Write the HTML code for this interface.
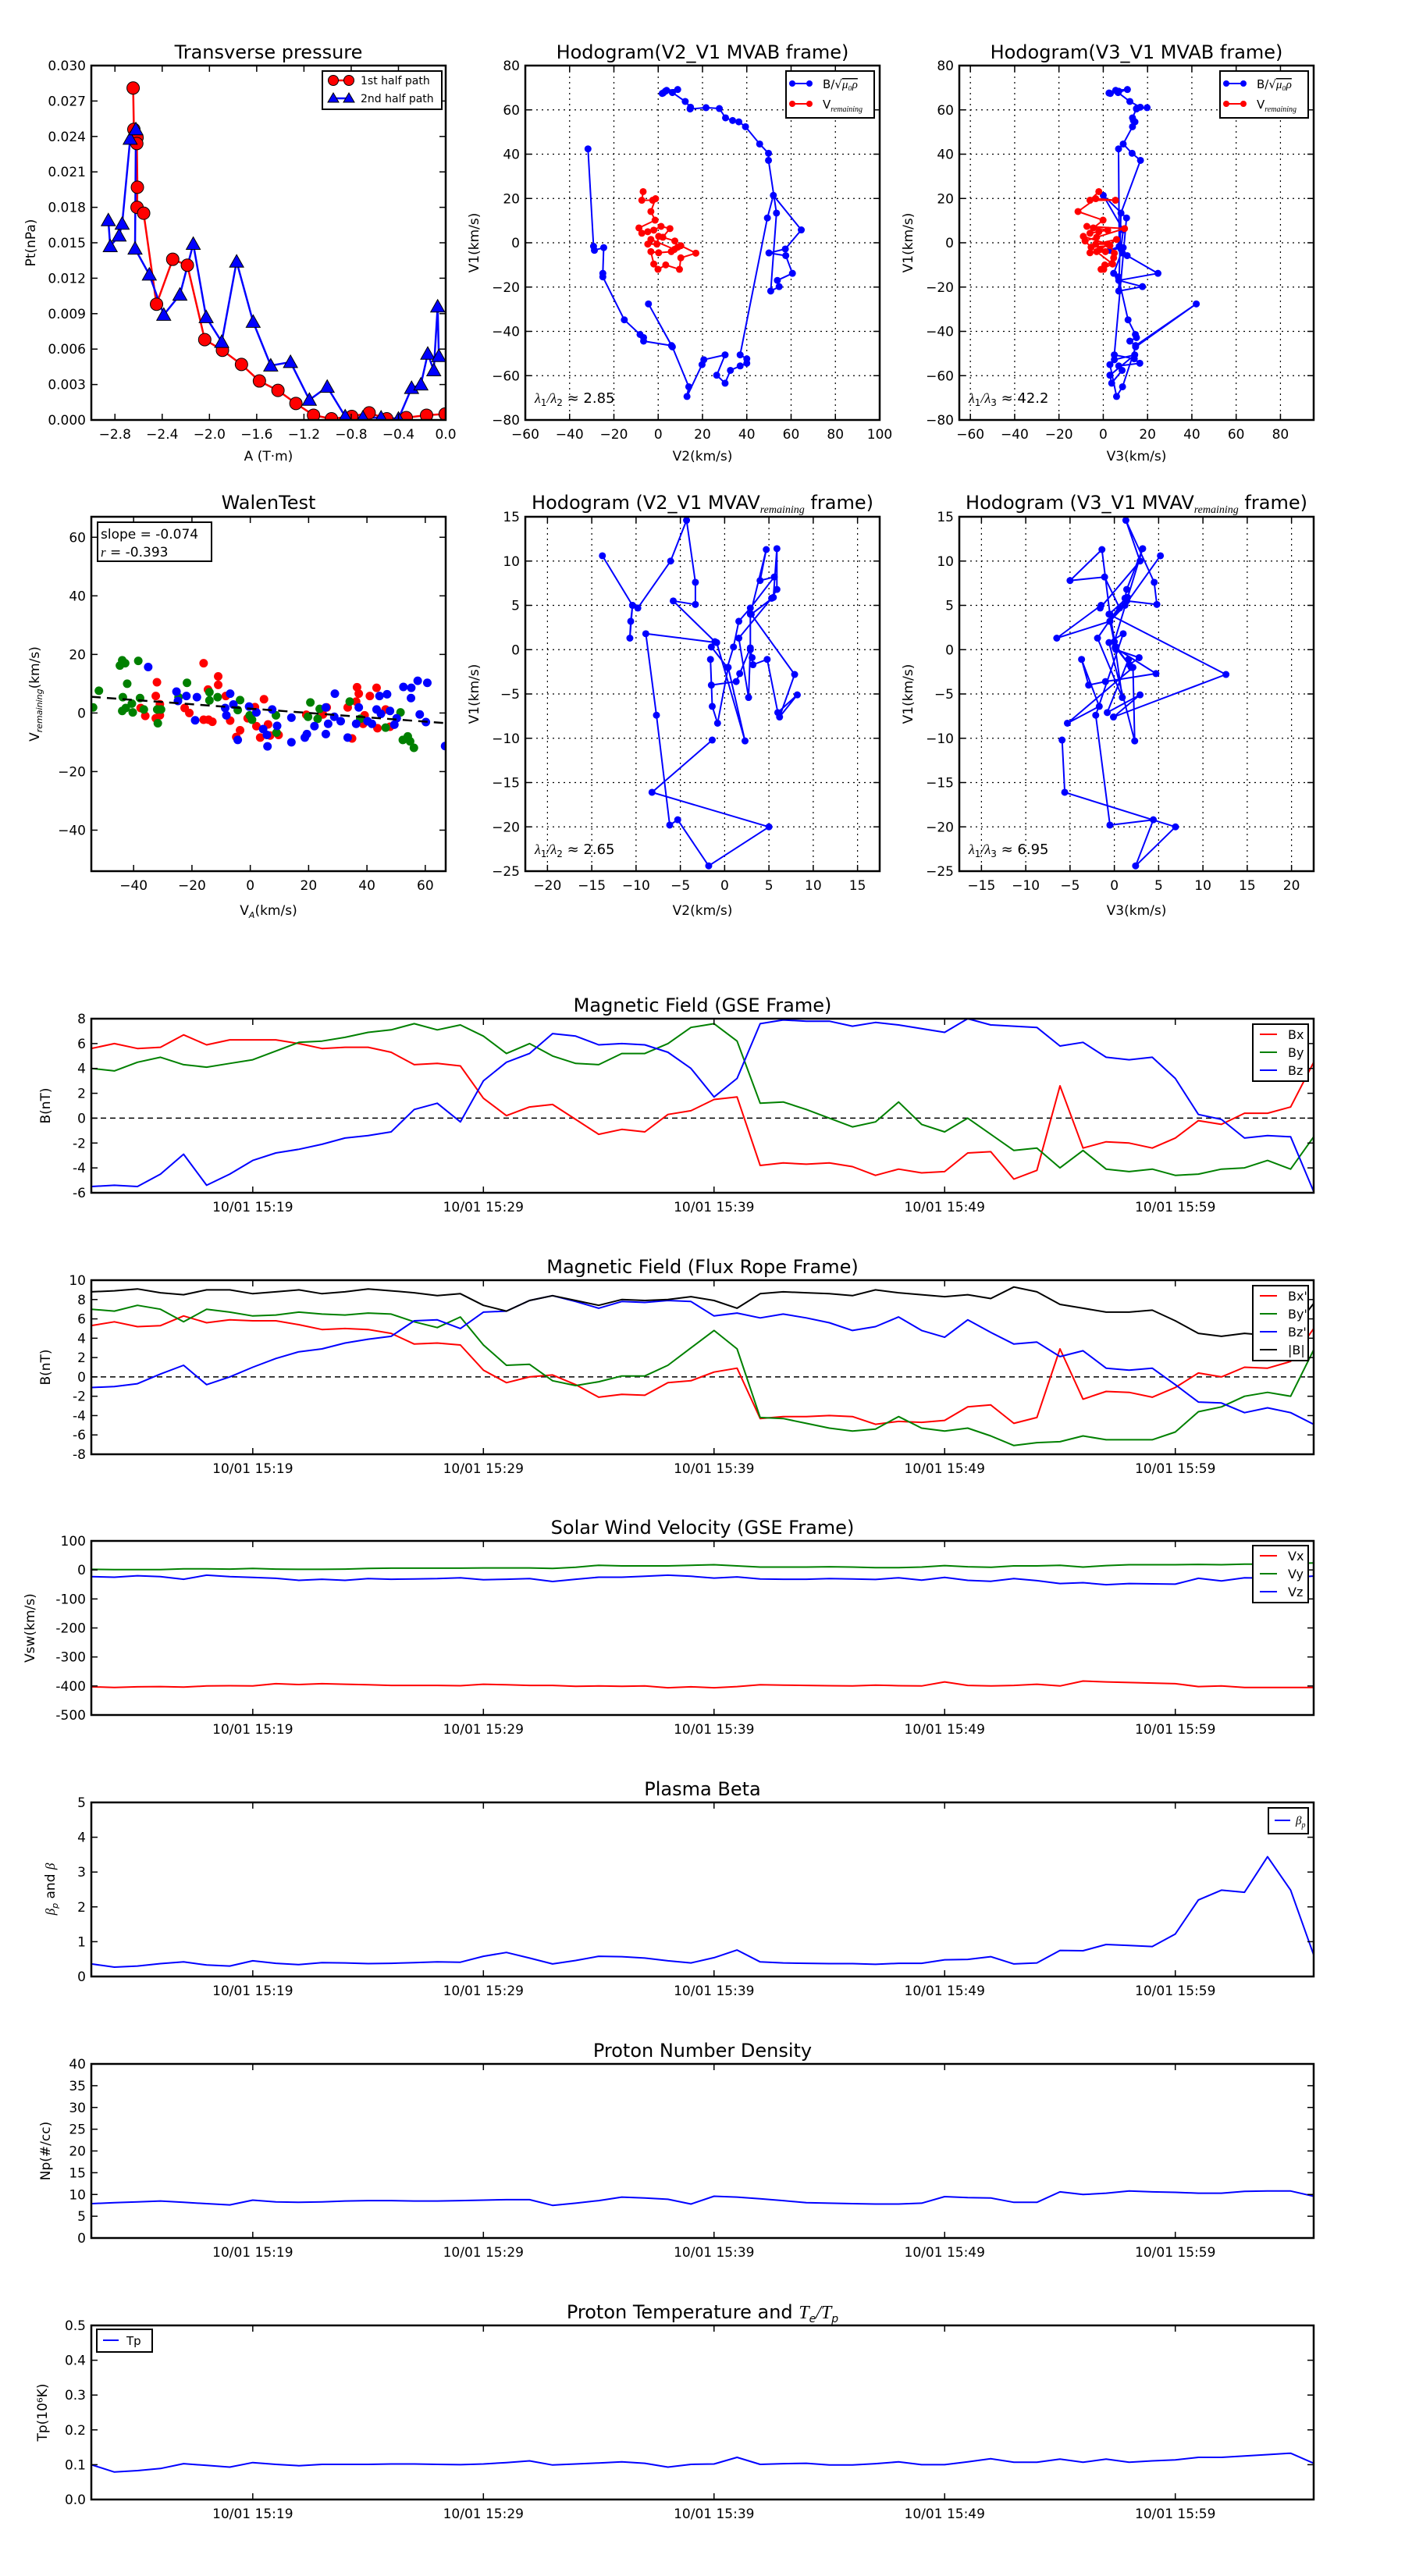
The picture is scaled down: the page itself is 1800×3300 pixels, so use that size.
<!DOCTYPE html>
<html><head><meta charset="utf-8">
<style>
html,body{margin:0;padding:0;background:#fff;}
svg{display:block;font-family:"DejaVu Sans","Liberation Sans",sans-serif;}
</style></head>
<body>
<svg id="fig" xmlns="http://www.w3.org/2000/svg" width="1800" height="3300" viewBox="0 0 1800 3300">
<defs id="defs"></defs>
<rect x="0" y="0" width="1800" height="3300" fill="#fff"/>
</svg>
<script>
// ---------- Transverse pressure ----------
const tpRedA=[-2.646,-2.64,-2.613,-2.615,-2.61,-2.613,-2.557,-2.448,-2.311,-2.187,-2.04,-1.89,-1.729,-1.577,-1.42,-1.268,-1.119,-0.967,-0.795,-0.648,-0.499,-0.334,-0.162,-0.005];
const tpRedP=[0.0281,0.0246,0.0239,0.0234,0.0197,0.0180,0.0175,0.0098,0.0136,0.0131,0.0068,0.0059,0.0047,0.0033,0.0025,0.0014,0.0004,0.0001,0.0003,0.0006,0.0001,0.0002,0.0004,0.0005];
const tpBlueA=[-2.856,-2.84,-2.765,-2.739,-2.671,-2.623,-2.63,-2.509,-2.387,-2.25,-2.137,-2.028,-1.896,-1.77,-1.63,-1.481,-1.314,-1.154,-1.003,-0.851,-0.701,-0.547,-0.4,-0.289,-0.21,-0.152,-0.101,-0.068,-0.058];
const tpBlueP=[0.0169,0.0147,0.0156,0.0166,0.0238,0.0246,0.0145,0.0123,0.0089,0.0106,0.0149,0.0087,0.0066,0.0134,0.0083,0.0046,0.0049,0.0017,0.0028,0.0003,0.0002,0.0002,0.0001,0.0027,0.0030,0.0056,0.0042,0.0096,0.0054];
const tpXTicks=[-2.8,-2.4,-2.0,-1.6,-1.2,-0.8,-0.4,0.0];
const tpXLabels=["−2.8","−2.4","−2.0","−1.6","−1.2","−0.8","−0.4","0.0"];
const tpYTicks=[0,0.003,0.006,0.009,0.012,0.015,0.018,0.021,0.024,0.027,0.030];
const tpYLabels=["0.000","0.003","0.006","0.009","0.012","0.015","0.018","0.021","0.024","0.027","0.030"];

// ---------- MVAB hodograms ----------
const hbV1=[42.4,-1.6,-3.4,-2.2,-13.8,-15.4,-34.8,-41.4,-42.8,-44.4,-46.4,-27.6,-47,-65,-69.4,-55,-52.8,-50.6,-59.8,-63.4,-57.6,-55.6,-54.4,-52.4,-50.6,11.2,21.4,5.8,-2.8,-4.6,-5.8,-13.8,-17,-19.8,-21.8,13.4,37.2,40.4,44.6,52.4,54.6,55.2,56.4,60.6,61,60.4,61.2,63.8,67.8,69.2,68.8,67.6,67.4,68.4];
const hbV2=[-31.7,-29.2,-28.8,-24.6,-25,-25,-15.3,-8.2,-6.6,-6.6,6,-4.4,6.4,13.8,13,19.8,20.6,30.2,26.4,30.2,32.6,37,40,40,37,49.3,52,64.6,57.4,50,57.6,60.6,53.8,54.6,50.8,53.4,49.8,49.8,45.8,39.4,36.4,33.6,30.4,27.6,21.6,14.4,14.6,12.2,6.4,8.8,3.8,2.2,1.8,3.2];
const hbV3=[6.9,7.2,3,9,4.7,6.8,11.2,14.5,15,12,14.6,42,14.6,8.7,6,3,5,14.2,3,3.8,8.5,7,16.5,14,5,10.5,0,9,8,8.6,10.8,24.7,7,17.7,7,8,16.8,13,9,13.2,14.3,13.6,13.2,15,19.8,15,16.7,12,6.7,10.9,5.6,2.6,3.2,7];
const hrV1=[23.1,19.2,19.2,19.9,14.1,10.2,6.7,4.3,5.0,5.7,7.4,6.4,2.5,0.8,-2.0,-1.3,-4.7,-6.8,-12.0,-10.0,-12.0,-9.6,-4.0,-4.5,-4.0,-3.0,1.5,-0.6,-0.6,2.9];
const hrV2=[-6.8,-7.4,-2.5,-1.2,-3.3,-1.4,-8.7,-7.4,-4.7,-2.0,1.3,5.3,2.1,7.5,8.8,10.2,17.0,10.2,9.6,3.4,-0.1,-2.0,-3.3,0.2,5.9,7.3,-3.3,-4.7,-0.6,0.2];
const hrV3=[-2,-6,5.5,-3.4,-11.4,-0.1,-4.5,-6,-2,2,-7.4,9.6,-3,-8.2,-5.5,3,5,4.7,0.2,0.7,-1,4.2,-3,-6,1,-1.5,6,-3.4,2,-9];
const hodoYTicks=[-80,-60,-40,-20,0,20,40,60,80];
const hodoYLabels=["−80","−60","−40","−20","0","20","40","60","80"];
const h1XTicks=[-60,-40,-20,0,20,40,60,80,100];
const h1XLabels=["−60","−40","−20","0","20","40","60","80","100"];
const h2XTicks=[-60,-40,-20,0,20,40,60,80];
const h2XLabels=["−60","−40","−20","0","20","40","60","80"];

// ---------- Walen test ----------
const wRedX=[-16,-11,-11,-32,-32.4,-31,-36,-37.6,-32.4,-31,-22.5,-20.9,-16,-14.3,-13,-14.5,-8.4,-6.9,-4.8,-3.5,-0.9,1.6,2.1,3.4,4.7,6.1,6.8,9.7,19.2,24.9,26.2,33.4,34.9,36.3,36.6,37.2,39.2,41,43.3,43.6,46.4,47.9,38.7];
const wRedY=[17,12.5,9.6,10.5,5.8,3,-1,1.7,-1.8,-0.8,1.7,0,-2.3,-2.3,-3,8,5.8,-2.6,-8.2,-5.9,-1.8,2,-4.5,-8.4,4.7,-3.9,-7.7,-7.5,-0.6,-0.5,1.9,1.9,-8.7,3.9,8.8,6.6,-0.8,5.8,8.6,-5.2,1.2,-4.7,-3.7];
const wGreenX=[-51.9,-53.9,-44.7,-43.9,-42.9,-38.4,-42.2,-43.7,-43.9,-42.7,-40.3,-40.6,-37.8,-36.5,-31.9,-30.6,-31.7,-24.6,-21.7,-14,-14,-11.2,-3.5,-4.3,-0.2,0.6,8.8,9,20.6,19.8,23.1,23.8,34.1,37.7,46.4,51.5,52.3,54,54.8,56.1];
const wGreenY=[7.6,1.9,16.2,18,17,17.8,10,5.4,0.7,1.7,0.2,3.2,5.1,1.2,1.2,1.2,-3.5,5.4,10.3,7.1,4.3,5.4,4.4,1,-0.8,-2.3,-0.8,-6.7,3.6,-1.3,-2,1.4,3.9,-2,-5,0.2,-9.2,-8,-9.7,-11.9];
const wBlueX=[-35,-25.3,-24.8,-21.9,-18.3,-18.9,-6.9,-5.8,-8.6,-8.2,-4.3,-0.4,2.1,4.4,5.7,5.9,7.5,9.2,14.1,14.1,18.7,19.4,22,25.9,25.9,26.7,28.8,29,31,33.4,36.3,37.2,40.2,41.7,43.3,44.3,44.8,46.9,47.9,49.4,50.2,52.5,55.2,55.1,57.4,58.1,60.2,60.7,66.8];
const wBlueY=[15.7,7.3,4.1,5.8,5.4,-2.5,6.6,2.9,1.7,-0.8,-9.2,2.2,0.2,-5.5,-7.5,-11.4,1.2,-4.4,-1.6,-10,-8.4,-7.2,-4.5,1.9,-7.2,-3.7,-1.3,6.6,-2.8,-8.4,-3.7,1.9,-2.8,-3.7,1.2,5.8,-0.3,6.4,0.7,-4,-1.8,8.9,8.6,5.1,11,-0.5,-3.1,10.3,-11.3];
const walenFit=[-0.074,1.5];
const wXTicks=[-40,-20,0,20,40,60];
const wXLabels=["−40","−20","0","20","40","60"];
const wYTicks=[-40,-20,0,20,40,60];
const wYLabels=["−40","−20","0","20","40","60"];

// ---------- MVAV hodograms ----------
const hmV1=[10.6,5.0,3.2,1.3,5.0,4.7,10.0,14.6,7.6,5.1,5.5,0.9,0.3,-2.0,0.3,3.2,4.7,8.2,7.8,11.3,4.0,0.0,-0.9,-1.7,-1.1,-7.1,-5.1,-7.6,-2.8,4.0,5.9,11.4,6.8,5.8,1.3,-5.4,0.2,-2.7,-3.6,-4.0,-1.1,-6.4,-8.3,-2.0,-10.3,0.8,1.8,-7.4,-19.8,-19.2,-24.4,-20.0,-16.1,-10.2];
const hmV2=[-13.8,-10.4,-10.6,-10.7,-10.4,-9.8,-6.1,-4.3,-3.3,-3.3,-5.8,-1.1,-1.5,0.3,1.0,1.6,2.9,5.6,4.0,4.7,2.9,2.9,3.1,3.2,4.8,6.0,8.2,6.2,7.9,3.0,5.5,5.9,5.9,5.3,1.6,2.7,2.9,1.7,1.3,-1.5,-1.6,-1.4,-0.8,0.4,2.3,-0.9,-8.9,-7.7,-6.2,-5.3,-1.8,5.0,-8.2,-1.4];
const hmV3=[5.2,1.2,-0.5,-6.5,-1.5,-1.6,2.9,1.3,4.5,4.8,1.4,0.0,0.2,1.9,0.1,-0.5,0.6,-1.1,-5.0,-1.4,-0.5,0.2,2.8,1.7,1.6,-0.8,2.9,-0.1,12.6,-0.6,1.5,3.2,1.4,1.2,-1.9,0.9,0.1,4.7,-1.0,-2.9,-3.7,-1.7,-5.3,2.1,2.3,-0.6,1.0,-2.1,-0.5,4.4,2.4,6.9,-5.6,-5.9];
const hmYTicks=[-25,-20,-15,-10,-5,0,5,10,15];
const hmYLabels=["−25","−20","−15","−10","−5","0","5","10","15"];
const h3XTicks=[-20,-15,-10,-5,0,5,10,15];
const h3XLabels=["−20","−15","−10","−5","0","5","10","15"];
const h4XTicks=[-15,-10,-5,0,5,10,15,20];
const h4XLabels=["−15","−10","−5","0","5","10","15","20"];

// ---------- time series (1-min samples 15:12 - 16:05) ----------
const tsTickIdx=[7,17,27,37,47];
const tsTickLabels=["10/01 15:19","10/01 15:29","10/01 15:39","10/01 15:49","10/01 15:59"];
const bx=[5.6,6.0,5.6,5.7,6.7,5.9,6.3,6.3,6.3,6.0,5.6,5.7,5.7,5.3,4.3,4.4,4.2,1.6,0.2,0.9,1.1,-0.1,-1.3,-0.9,-1.1,0.3,0.6,1.5,1.7,-3.8,-3.6,-3.7,-3.6,-3.9,-4.6,-4.1,-4.4,-4.3,-2.8,-2.7,-4.9,-4.2,2.6,-2.4,-1.9,-2.0,-2.4,-1.6,-0.2,-0.5,0.4,0.4,0.9,4.5];
const by=[4.0,3.8,4.5,4.9,4.3,4.1,4.4,4.7,5.4,6.1,6.2,6.5,6.9,7.1,7.6,7.1,7.5,6.6,5.2,6.0,5.0,4.4,4.3,5.2,5.2,6.0,7.3,7.6,6.2,1.2,1.3,0.7,0.0,-0.7,-0.3,1.3,-0.5,-1.1,0.0,-1.3,-2.6,-2.4,-4.0,-2.6,-4.1,-4.3,-4.1,-4.6,-4.5,-4.1,-4.0,-3.4,-4.1,-1.5];
const bz=[-5.5,-5.4,-5.5,-4.5,-2.9,-5.4,-4.5,-3.4,-2.8,-2.5,-2.1,-1.6,-1.4,-1.1,0.7,1.2,-0.3,3.0,4.5,5.2,6.8,6.6,5.9,6.0,5.9,5.3,4.0,1.7,3.2,7.6,7.9,7.8,7.8,7.4,7.7,7.5,7.2,6.9,8.0,7.5,7.4,7.3,5.8,6.1,4.9,4.7,4.9,3.2,0.3,-0.1,-1.6,-1.4,-1.5,-5.9];
const bxp=[5.3,5.7,5.2,5.3,6.3,5.6,5.9,5.8,5.8,5.4,4.9,5.0,4.9,4.5,3.4,3.5,3.3,0.7,-0.6,0.0,0.2,-0.8,-2.1,-1.8,-1.9,-0.6,-0.4,0.5,0.9,-4.3,-4.1,-4.1,-4.0,-4.1,-4.9,-4.6,-4.7,-4.5,-3.1,-2.9,-4.8,-4.2,2.9,-2.3,-1.5,-1.6,-2.1,-1.1,0.4,0.0,1.0,0.9,1.6,5.0];
const byp=[7.0,6.8,7.4,7.0,5.7,7.0,6.7,6.3,6.4,6.7,6.5,6.4,6.6,6.5,5.7,5.1,6.2,3.3,1.2,1.3,-0.4,-0.9,-0.5,0.1,0.1,1.2,3.0,4.8,2.9,-4.2,-4.3,-4.8,-5.3,-5.6,-5.4,-4.1,-5.3,-5.6,-5.3,-6.1,-7.1,-6.8,-6.7,-6.1,-6.5,-6.5,-6.5,-5.7,-3.6,-3.1,-2.0,-1.6,-2.0,2.8];
const bzp=[-1.1,-1.0,-0.7,0.3,1.2,-0.8,0.0,1.0,1.9,2.6,2.9,3.5,3.9,4.2,5.8,5.9,5.0,6.7,6.8,7.9,8.4,7.8,7.1,7.8,7.7,7.9,7.8,6.3,6.6,6.1,6.5,6.1,5.6,4.8,5.2,6.2,4.8,4.1,5.9,4.6,3.4,3.6,2.1,2.7,0.9,0.7,0.9,-0.8,-2.6,-2.7,-3.7,-3.2,-3.7,-4.9];
const bmag=[8.8,8.9,9.1,8.7,8.5,9.0,9.0,8.6,8.8,9.0,8.6,8.8,9.1,8.9,8.7,8.4,8.6,7.4,6.8,7.9,8.4,7.9,7.4,8.0,7.9,8.0,8.3,7.9,7.1,8.6,8.8,8.7,8.6,8.4,9.0,8.7,8.5,8.3,8.5,8.1,9.3,8.8,7.5,7.1,6.7,6.7,6.9,5.8,4.5,4.2,4.5,4.3,4.5,7.6];
const vx=[-403,-405,-403,-402,-404,-400,-399,-400,-392,-395,-392,-394,-396,-398,-398,-398,-399,-394,-396,-398,-398,-401,-400,-401,-400,-406,-403,-406,-402,-396,-397,-398,-399,-400,-397,-399,-400,-386,-398,-400,-398,-394,-400,-383,-386,-388,-390,-392,-402,-400,-405,-405,-405,-405];
const vy=[2,1,1,1,4,4,3,5,3,2,2,3,5,6,6,6,6,7,7,7,5,9,16,14,14,14,16,18,14,10,10,10,11,10,8,8,10,15,11,9,14,14,16,10,15,18,18,18,19,18,20,20,22,24];
const vz=[-23,-25,-20,-23,-32,-18,-23,-26,-29,-36,-32,-36,-30,-32,-31,-30,-27,-34,-32,-30,-40,-32,-25,-25,-22,-18,-22,-28,-24,-31,-32,-32,-30,-31,-33,-27,-35,-26,-36,-39,-30,-37,-47,-44,-51,-47,-48,-49,-29,-38,-27,-28,-27,-21];
const betaP=[0.36,0.27,0.30,0.37,0.42,0.33,0.30,0.45,0.38,0.34,0.40,0.39,0.37,0.38,0.40,0.42,0.41,0.58,0.69,0.53,0.36,0.46,0.58,0.57,0.53,0.45,0.39,0.54,0.76,0.42,0.39,0.38,0.37,0.37,0.35,0.38,0.38,0.48,0.49,0.57,0.36,0.39,0.75,0.74,0.92,0.89,0.86,1.22,2.2,2.48,2.42,3.44,2.48,0.62];
const np=[7.9,8.1,8.3,8.5,8.2,7.9,7.6,8.7,8.3,8.2,8.3,8.5,8.6,8.6,8.5,8.5,8.6,8.7,8.8,8.8,7.5,8.0,8.6,9.4,9.2,8.9,7.8,9.6,9.4,9.0,8.6,8.1,8.0,7.9,7.8,7.8,8.0,9.5,9.3,9.2,8.2,8.2,10.6,10.0,10.3,10.8,10.6,10.5,10.3,10.3,10.7,10.8,10.8,9.6];
const tp=[0.100,0.079,0.083,0.089,0.103,0.098,0.093,0.106,0.101,0.097,0.101,0.101,0.101,0.102,0.102,0.101,0.100,0.102,0.106,0.111,0.099,0.102,0.105,0.108,0.104,0.093,0.101,0.102,0.121,0.101,0.103,0.104,0.099,0.099,0.103,0.108,0.100,0.100,0.108,0.117,0.107,0.107,0.116,0.107,0.116,0.107,0.111,0.114,0.121,0.121,0.125,0.129,0.133,0.104];

// ================= drawing =================
const NS='http://www.w3.org/2000/svg';
const svg=document.getElementById('fig');
const defs=document.getElementById('defs');
function mk(tag,parent){const e=document.createElementNS(NS,tag);(parent||svg).appendChild(e);return e;}
function attrs(e,o){for(const k in o)e.setAttribute(k,o[k]);return e;}
function txt(parent,x,y,s,size,anchor,extra){const t=mk('text',parent);attrs(t,{x:x,y:y,'font-size':size,'text-anchor':anchor||'middle',fill:'#000'});if(extra)attrs(t,extra);t.textContent=s;return t;}

function axes(name,b,xl,yl){
  const g=mk('g');
  
  
  const cp=mk('clipPath',defs);attrs(cp,{id:'clip-'+name});
  attrs(mk('rect',cp),{x:b.l,y:b.t,width:b.w,height:b.h});
  const gridG=mk('g',g);
  const dg=mk('g',g);attrs(dg,{'clip-path':'url(#clip-'+name+')'});
  return {g,dg,gridG,b,sx:v=>b.l+(v-xl[0])/(xl[1]-xl[0])*b.w,sy:v=>b.t+b.h-(v-yl[0])/(yl[1]-yl[0])*b.h};
}
function finish(ax,xt,xlab,yt,ylab,grid,fs){
  const b=ax.b,g=ax.g;fs=fs||17;
  if(grid){
    xt.forEach(v=>{const x=ax.sx(v);if(x>b.l+1&&x<b.l+b.w-1){const l=mk('line',ax.gridG);attrs(l,{x1:x,x2:x,y1:b.t,y2:b.t+b.h,stroke:'#000','stroke-width':1.2,'stroke-dasharray':'2,5'});}});
    yt.forEach(v=>{const y=ax.sy(v);if(y>b.t+1&&y<b.t+b.h-1){const l=mk('line',ax.gridG);attrs(l,{x1:b.l,x2:b.l+b.w,y1:y,y2:y,stroke:'#000','stroke-width':1.2,'stroke-dasharray':'2,5'});}});
  }
  const tg=mk('g',g);
  
  
  xt.forEach((v,i)=>{const x=ax.sx(v);
    attrs(mk('line',tg),{x1:x,x2:x,y1:b.t+b.h,y2:b.t+b.h-8,stroke:'#000','stroke-width':1.5});
    attrs(mk('line',tg),{x1:x,x2:x,y1:b.t,y2:b.t+8,stroke:'#000','stroke-width':1.5});
    txt(tg,x,b.t+b.h+24,xlab[i],fs,'middle');});
  yt.forEach((v,i)=>{const y=ax.sy(v);
    attrs(mk('line',tg),{x1:b.l,x2:b.l+8,y1:y,y2:y,stroke:'#000','stroke-width':1.5});
    attrs(mk('line',tg),{x1:b.l+b.w,x2:b.l+b.w-8,y1:y,y2:y,stroke:'#000','stroke-width':1.5});
    txt(tg,b.l-7,y+6,ylab[i],fs,'end');});
  const fr=mk('rect',g);attrs(fr,{x:b.l,y:b.t,width:b.w,height:b.h,fill:'none',stroke:'#000','stroke-width':2.5});
  
  
}
function line(ax,xs,ys,color,w){const p=mk('polyline',ax.dg);attrs(p,{points:xs.map((x,i)=>ax.sx(x).toFixed(1)+','+ax.sy(ys[i]).toFixed(1)).join(' '),fill:'none',stroke:color,'stroke-width':w||2,'stroke-linejoin':'round'});return p;}
function dots(ax,xs,ys,color,r,stroke){const g=mk('g',ax.dg);xs.forEach((x,i)=>{const c=mk('circle',g);attrs(c,{cx:ax.sx(x),cy:ax.sy(ys[i]),r:r,fill:color});if(stroke)attrs(c,{stroke:stroke,'stroke-width':1});
  
  });return g;}
function title(ax,s,y){const t=txt(ax.g,ax.b.l+ax.b.w/2,y,s,24,'middle');return t;}
function xlabel(ax,s,y){const t=txt(ax.g,ax.b.l+ax.b.w/2,y,s,17,'middle');return t;}
function ylabel(ax,s,x){const cy=ax.b.t+ax.b.h/2;const t=txt(ax.g,x,cy,s,17,'middle',{transform:'rotate(-90 '+x+' '+cy+')'});return t;}

// ---- Transverse pressure ----
(function(){
  const ax=axes('transverse-pressure-chart',{l:117,t:84,w:454,h:454},[-3,0],[0,0.03]);
  line(ax,tpRedA,tpRedP,'#f00',2.5);
  line(ax,tpBlueA,tpBlueP,'#00f',2.5);
  dots(ax,tpRedA,tpRedP,'#f00',8,'#000');
  const tg=mk('g',ax.dg);
  tpBlueA.forEach((a,i)=>{const x=ax.sx(a),y=ax.sy(tpBlueP[i]);const p=mk('polygon',tg);
    attrs(p,{points:`${x},${y-9} ${x-9},${y+7} ${x+9},${y+7}`,fill:'#00f',stroke:'#000','stroke-width':1});
    
    });
  finish(ax,tpXTicks,tpXLabels,tpYTicks,tpYLabels,false);
  title(ax,'Transverse pressure',75);
  xlabel(ax,'A (T·m)',590);
  ylabel(ax,'Pt(nPa)',45);
  const lg=mk('g',ax.g);
  
  
  attrs(mk('rect',lg),{x:413,y:91,width:153,height:49,fill:'#fff',stroke:'#000','stroke-width':2});
  attrs(mk('line',lg),{x1:427,x2:447,y1:103,y2:103,stroke:'#f00','stroke-width':2.5});
  attrs(mk('circle',lg),{cx:427,cy:103,r:6.5,fill:'#f00',stroke:'#000'});
  attrs(mk('circle',lg),{cx:447,cy:103,r:6.5,fill:'#f00',stroke:'#000'});
  txt(lg,462,108,'1st half path',14,'start');
  attrs(mk('line',lg),{x1:427,x2:447,y1:126,y2:126,stroke:'#00f','stroke-width':2.5});
  attrs(mk('polygon',lg),{points:'427,119 420,131 434,131',fill:'#00f',stroke:'#000'});
  attrs(mk('polygon',lg),{points:'447,119 440,131 454,131',fill:'#00f',stroke:'#000'});
  txt(lg,462,131,'2nd half path',14,'start');
})();

function hodoLegend(ax,x0,y0,showRed){
  const lg=mk('g',ax.g);
  
  
  attrs(mk('rect',lg),{x:x0,y:y0,width:113,height:60,fill:'#fff',stroke:'#000','stroke-width':2});
  attrs(mk('line',lg),{x1:x0+8,x2:x0+30,y1:y0+16,y2:y0+16,stroke:'#00f','stroke-width':2});
  attrs(mk('circle',lg),{cx:x0+8,cy:y0+16,r:4,fill:'#00f'});
  attrs(mk('circle',lg),{cx:x0+30,cy:y0+16,r:4,fill:'#00f'});
  const t=txt(lg,x0+47,y0+22,'B/√',15,'start');
  const ts=mk('tspan',t);attrs(ts,{'font-style':'italic','font-family':'Liberation Serif, serif','text-decoration':'overline'});ts.textContent='μ₀ρ';
  attrs(mk('line',lg),{x1:x0+8,x2:x0+30,y1:y0+42,y2:y0+42,stroke:'#f00','stroke-width':2});
  attrs(mk('circle',lg),{cx:x0+8,cy:y0+42,r:4,fill:'#f00'});
  attrs(mk('circle',lg),{cx:x0+30,cy:y0+42,r:4,fill:'#f00'});
  const t2=txt(lg,x0+47,y0+48,'V',15,'start');
  const s2=mk('tspan',t2);attrs(s2,{'font-size':10,'font-style':'italic','font-family':'Liberation Serif, serif',dy:4});s2.textContent='remaining';
}
function lambdaText(ax,a,b,val){
  const t=txt(ax.g,ax.b.l+12,ax.b.t+ax.b.h-22,'',18,'start');
  
  
  const p1=mk('tspan',t);attrs(p1,{'font-style':'italic','font-family':'Liberation Serif, serif'});p1.textContent='λ';
  const s1=mk('tspan',t);attrs(s1,{'font-size':12,dy:4});s1.textContent=a;
  const p2=mk('tspan',t);attrs(p2,{dy:-4,'font-style':'italic','font-family':'Liberation Serif, serif'});p2.textContent='/λ';
  const s2=mk('tspan',t);attrs(s2,{'font-size':12,dy:4});s2.textContent=b;
  const p3=mk('tspan',t);attrs(p3,{dy:-4});p3.textContent=' ≈ '+val;
}

// ---- Hodogram V2_V1 MVAB ----
(function(){
  const ax=axes('hodogram-v2-v1-mvab',{l:673,t:84,w:454,h:454},[-60,100],[-80,80]);
  line(ax,hbV2,hbV1,'#00f',2);dots(ax,hbV2,hbV1,'#00f',4.5);
  line(ax,hrV2,hrV1,'#f00',2);dots(ax,hrV2,hrV1,'#f00',4.5);
  finish(ax,h1XTicks,h1XLabels,hodoYTicks,hodoYLabels,true);
  title(ax,'Hodogram(V2_V1 MVAB frame)',75);
  xlabel(ax,'V2(km/s)',590);ylabel(ax,'V1(km/s)',613);
  hodoLegend(ax,1007,91);
  lambdaText(ax,'1','2','2.85');
})();
// ---- Hodogram V3_V1 MVAB ----
(function(){
  const ax=axes('hodogram-v3-v1-mvab',{l:1229,t:84,w:454,h:454},[-65,95],[-80,80]);
  line(ax,hbV3,hbV1,'#00f',2);dots(ax,hbV3,hbV1,'#00f',4.5);
  line(ax,hrV3,hrV1,'#f00',2);dots(ax,hrV3,hrV1,'#f00',4.5);
  finish(ax,h2XTicks,h2XLabels,hodoYTicks,hodoYLabels,true);
  title(ax,'Hodogram(V3_V1 MVAB frame)',75);
  xlabel(ax,'V3(km/s)',590);ylabel(ax,'V1(km/s)',1169);
  hodoLegend(ax,1563,91);
  lambdaText(ax,'1','3','42.2');
})();

// ---- Walen test ----
(function(){
  const ax=axes('walen-test-chart',{l:117,t:662,w:454,h:454},[-54.5,67],[-54,67]);
  dots(ax,wRedX,wRedY,'#f00',5.5);
  dots(ax,wGreenX,wGreenY,'#008000',5.5);
  dots(ax,wBlueX,wBlueY,'#00f',5.5);
  const fx=[-54.5,67];
  const fl=line(ax,fx,fx.map(x=>walenFit[0]*x+walenFit[1]),'#000',2.5);
  attrs(fl,{'stroke-dasharray':'12,8'});
  
  
  finish(ax,wXTicks,wXLabels,wYTicks,wYLabels,false);
  title(ax,'WalenTest',652);
  const xl=xlabel(ax,'',1172);xl.textContent='V';const xs=mk('tspan',xl);attrs(xs,{'font-size':11,dy:4,'font-style':'italic'});xs.textContent='A';const xs2=mk('tspan',xl);attrs(xs2,{dy:-4});xs2.textContent='(km/s)';
  const yl=ylabel(ax,'',50);yl.textContent='V';const ys=mk('tspan',yl);attrs(ys,{'font-size':11,dy:4,'font-style':'italic'});ys.textContent='remaining';const ys2=mk('tspan',yl);attrs(ys2,{dy:-4});ys2.textContent='(km/s)';
  const bx=mk('g',ax.g);
  
  
  attrs(mk('rect',bx),{x:125,y:669,width:146,height:50,fill:'#fff',stroke:'#000','stroke-width':2});
  txt(bx,129,690,'slope = -0.074',17,'start');
  const r=txt(bx,129,713,'',17,'start');const ri=mk('tspan',r);attrs(ri,{'font-style':'italic','font-family':'Liberation Serif, serif'});ri.textContent='r';const rr=mk('tspan',r);rr.textContent=' = -0.393';
})();

function mvavTitle(ax,s1){const t=title(ax,s1,652);const s=mk('tspan',t);attrs(s,{'font-size':14,dy:5,'font-style':'italic','font-family':'Liberation Serif, serif'});s.textContent='remaining';const s2=mk('tspan',t);attrs(s2,{dy:-5});s2.textContent=' frame)';}
// ---- Hodogram V2_V1 MVAV ----
(function(){
  const ax=axes('hodogram-v2-v1-mvav',{l:673,t:662,w:454,h:454},[-22.5,17.5],[-25,15]);
  line(ax,hmV2,hmV1,'#00f',2);dots(ax,hmV2,hmV1,'#00f',4.5);
  finish(ax,h3XTicks,h3XLabels,hmYTicks,hmYLabels,true);
  mvavTitle(ax,'Hodogram (V2_V1 MVAV');
  xlabel(ax,'V2(km/s)',1172);ylabel(ax,'V1(km/s)',613);
  lambdaText(ax,'1','2','2.65');
})();
// ---- Hodogram V3_V1 MVAV ----
(function(){
  const ax=axes('hodogram-v3-v1-mvav',{l:1229,t:662,w:454,h:454},[-17.5,22.5],[-25,15]);
  line(ax,hmV3,hmV1,'#00f',2);dots(ax,hmV3,hmV1,'#00f',4.5);
  finish(ax,h4XTicks,h4XLabels,hmYTicks,hmYLabels,true);
  mvavTitle(ax,'Hodogram (V3_V1 MVAV');
  xlabel(ax,'V3(km/s)',1172);ylabel(ax,'V1(km/s)',1169);
  lambdaText(ax,'1','3','6.95');
})();

// ---- time series ----
const idx=bx.map((_,i)=>i);
function tsLegend(ax,x0,y0,w,entries){
  const lg=mk('g',ax.g);
  
  
  attrs(mk('rect',lg),{x:x0,y:y0,width:w,height:entries.length*23+4,fill:'#fff',stroke:'#000','stroke-width':2});
  entries.forEach((e,i)=>{const y=y0+13+i*23;attrs(mk('line',lg),{x1:x0+9,x2:x0+31,y1:y,y2:y,stroke:e[1],'stroke-width':2});txt(lg,x0+45,y+6,e[0],16,'start');});
}
function ts(name,top,ylim,yt,ylab,series,ttl,yl,ylx,zero){
  const ax=axes(name,{l:117,t:top,w:1566,h:223},[0,53],ylim);
  if(zero){const z=line(ax,[0,53],[0,0],'#000',1.5);attrs(z,{'stroke-dasharray':'7,5'});}
  series.forEach(s=>{const p=line(ax,idx,s[0],s[1],2);
    
    });
  finish(ax,tsTickIdx,tsTickLabels,yt,ylab,false);
  if(ttl)title(ax,ttl,top-9);
  ylabel(ax,yl,ylx);
  return ax;
}
let a;
a=ts('magnetic-field-gse-chart',1305,[-6,8],[-6,-4,-2,0,2,4,6,8],["-6","-4","-2","0","2","4","6","8"],[[bx,'#f00','bx-line'],[by,'#008000','by-line'],[bz,'#00f','bz-line']],'Magnetic Field (GSE Frame)','B(nT)',64,true);
tsLegend(a,1605,1312,71,[['Bx','#f00'],['By','#008000'],['Bz','#00f']]);
a=ts('magnetic-field-flux-rope-chart',1640,[-8,10],[-8,-6,-4,-2,0,2,4,6,8,10],["-8","-6","-4","-2","0","2","4","6","8","10"],[[bxp,'#f00','bx-prime-line'],[byp,'#008000','by-prime-line'],[bzp,'#00f','bz-prime-line'],[bmag,'#000','b-magnitude-line']],'Magnetic Field (Flux Rope Frame)','B(nT)',64,true);
tsLegend(a,1605,1647,71,[["Bx'",'#f00'],["By'",'#008000'],["Bz'",'#00f'],['|B|','#000']]);
a=ts('solar-wind-velocity-chart',1974,[-500,100],[-500,-400,-300,-200,-100,0,100],["-500","-400","-300","-200","-100","0","100"],[[vx,'#f00','vx-line'],[vy,'#008000','vy-line'],[vz,'#00f','vz-line']],'Solar Wind Velocity (GSE Frame)','Vsw(km/s)',44,false);
tsLegend(a,1605,1980,71,[['Vx','#f00'],['Vy','#008000'],['Vz','#00f']]);
a=ts('plasma-beta-chart',2309,[0,5],[0,1,2,3,4,5],["0","1","2","3","4","5"],[[betaP,'#00f','beta-p-line']],'Plasma Beta','',70,false);
(function(){const cy=2309+111;const t=txt(a.g,70,cy,'',17,'middle',{transform:'rotate(-90 70 '+cy+')'});const p=mk('tspan',t);attrs(p,{'font-style':'italic','font-family':'Liberation Serif, serif'});p.textContent='β';const s=mk('tspan',t);attrs(s,{'font-size':11,dy:4,'font-style':'italic'});s.textContent='p';const q=mk('tspan',t);attrs(q,{dy:-4});q.textContent=' and ';const r=mk('tspan',t);attrs(r,{'font-style':'italic','font-family':'Liberation Serif, serif'});r.textContent='β';})();
(function(){const lg=mk('g',a.g);
  
  
  attrs(mk('rect',lg),{x:1625,y:2316,width:51,height:33,fill:'#fff',stroke:'#000','stroke-width':2});attrs(mk('line',lg),{x1:1633,x2:1653,y1:2332,y2:2332,stroke:'#00f','stroke-width':2});const t=txt(lg,1660,2337,'β',15,'start',{'font-style':'italic','font-family':'Liberation Serif, serif'});const s=mk('tspan',t);attrs(s,{'font-size':10,dy:4});s.textContent='p';})();
a=ts('proton-density-chart',2644,[0,40],[0,5,10,15,20,25,30,35,40],["0","5","10","15","20","25","30","35","40"],[[np,'#00f','np-line']],'Proton Number Density','Np(#/cc)',64,false);
a=ts('proton-temperature-chart',2979,[0,0.5],[0,0.1,0.2,0.3,0.4,0.5],["0.0","0.1","0.2","0.3","0.4","0.5"],[[tp,'#00f','tp-line']],null,'Tp(10⁶K)',60,false);
(function(){const t=title(a,'Proton Temperature and ',2970);const p=mk('tspan',t);attrs(p,{'font-style':'italic','font-family':'Liberation Serif, serif'});p.textContent='T';const s=mk('tspan',t);attrs(s,{'font-size':14,dy:5,'font-style':'italic'});s.textContent='e';const p2=mk('tspan',t);attrs(p2,{dy:-5,'font-style':'italic','font-family':'Liberation Serif, serif'});p2.textContent='/T';const s2=mk('tspan',t);attrs(s2,{'font-size':14,dy:5,'font-style':'italic'});s2.textContent='p';})();
(function(){const lg=mk('g',a.g);
  
  
  attrs(mk('rect',lg),{x:124,y:2984,width:71,height:29,fill:'#fff',stroke:'#000','stroke-width':2});attrs(mk('line',lg),{x1:132,x2:152,y1:2998,y2:2998,stroke:'#00f','stroke-width':2});txt(lg,162,3004,'Tp',15,'start');})();
</script>
</body></html>
